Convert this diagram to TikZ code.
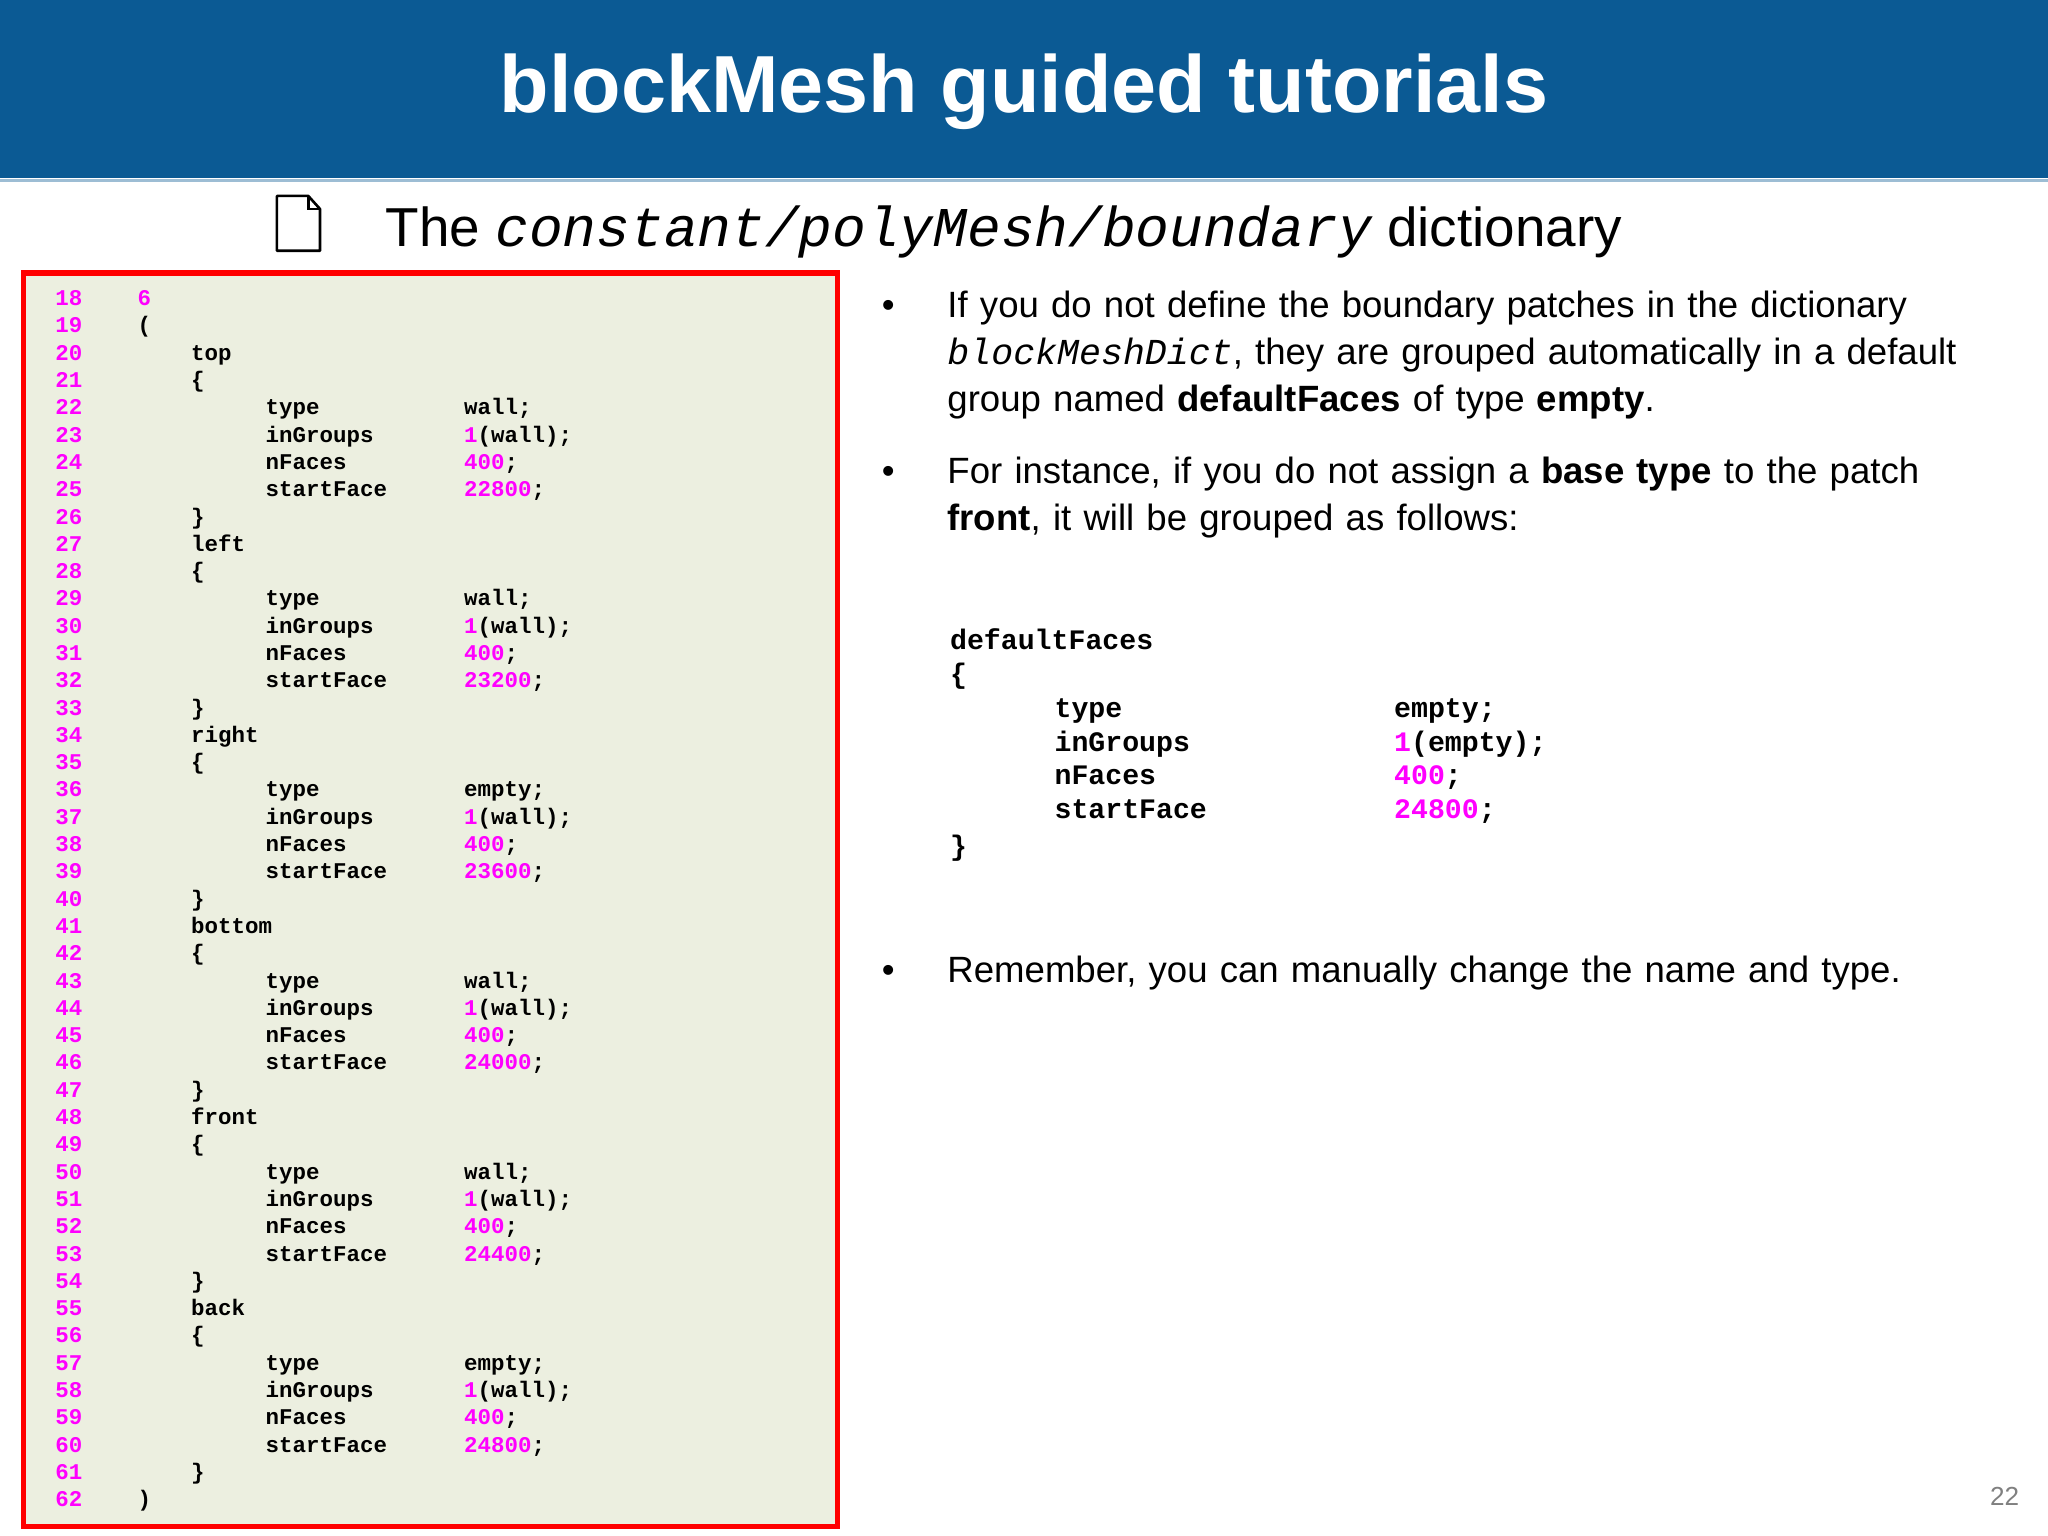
\documentclass[tikz,border=0pt]{standalone}
\usepackage{fontspec}
\setmainfont{Liberation Sans}
\newfontfamily\codefont{Liberation Mono}
\definecolor{barblue}{HTML}{0B5A94}
\definecolor{boxfill}{HTML}{ECEFE0}
\definecolor{mag}{HTML}{FF00FF}
\newcommand\cf{\codefont\fontsize{8.6pt}{10pt}\selectfont\bfseries}
\newcommand\rf{\codefont\fontsize{10.8pt}{13pt}\selectfont\bfseries}
\tikzset{cl/.style={anchor=base west,inner sep=0pt,font=\cf},
 rl/.style={anchor=base west,inner sep=0pt,font=\rf},
 bt/.style={anchor=base west,inner sep=0pt,font=\fontsize{14pt}{18pt}\selectfont,align=left,text width=430pt}}
\newcommand\lyy[1]{\pgfmathsetmacro\yy{234+(#1-18)*20.9}}
\newcommand\codeln[3]{\lyy{#1}\node[cl] at (#2,\yy) {#3};}
\newcommand\blk[4]{%
 \codeln{#1}{146}{#2}\pgfmathtruncatemacro\a{#1+1}\codeln{\a}{146}{\{}%
 \pgfmathtruncatemacro\a{#1+2}\codeln{\a}{203}{type}\codeln{\a}{355}{#3;}%
 \pgfmathtruncatemacro\a{#1+3}\codeln{\a}{203}{inGroups}\codeln{\a}{355}{\textcolor{mag}{1}(wall);}%
 \pgfmathtruncatemacro\a{#1+4}\codeln{\a}{203}{nFaces}\codeln{\a}{355}{\textcolor{mag}{400};}%
 \pgfmathtruncatemacro\a{#1+5}\codeln{\a}{203}{startFace}\codeln{\a}{355}{\textcolor{mag}{#4};}%
 \pgfmathtruncatemacro\a{#1+6}\codeln{\a}{146}{\}}}
\begin{document}
\begin{tikzpicture}[x=0.5pt,y=-0.5pt]
\useasboundingbox (0,0) rectangle (1568,1176);
\fill[white] (0,0) rectangle (1568,1176);
\fill[barblue] (0,0) rectangle (1568,136);
\draw[barblue!40,line width=1pt] (0,138) -- (1568,138);
\node[text=white,font=\fontsize{31pt}{36pt}\selectfont\bfseries] (title) at (784,70) {blockMesh guided tutorials};
% page icon
\draw[line width=1pt,line join=round] (212,150) -- (236,150) -- (245,160) -- (245,192) -- (212,192) -- cycle;
\draw[line width=1pt] (236,150) -- (236,160) -- (245,160);
\node[anchor=base west,inner sep=0pt,font=\fontsize{21pt}{24pt}\selectfont] (sub) at (295,189)
 {The {\codefont\itshape\fontsize{21.5pt}{24pt}\selectfont constant/polyMesh/boundary} dictionary};
% code box
\draw[fill=boxfill,draw=red,line width=2pt] (18,209) rectangle (641,1169);
\foreach \i in {18,...,62}{\lyy{\i}\node[cl,text=mag] at (42,\yy) {\i};}
\codeln{18}{105}{\textcolor{mag}{6}}
\codeln{19}{105}{(}
\blk{20}{top}{wall}{22800}
\blk{27}{left}{wall}{23200}
\blk{34}{right}{empty}{23600}
\blk{41}{bottom}{wall}{24000}
\blk{48}{front}{wall}{24400}
\blk{55}{back}{empty}{24800}
\codeln{62}{105}{)}
% bullets
\foreach \yb in {243,370,752}{\node[anchor=base,font=\fontsize{14pt}{18pt}\selectfont] at (680,\yb) {•};}
\node[bt] (b1) at (725,243) {If you do not define the boundary patches in the dictionary\\
{\codefont\itshape blockMeshDict}, they are grouped automatically in a default\\
group named \textbf{defaultFaces} of type \textbf{empty}.};
\node[bt] (b2) at (725,370) {For instance, if you do not assign a \textbf{base type} to the patch\\
\textbf{front}, it will be grouped as follows:};
\node[bt] (b3) at (725,752) {Remember, you can manually change the name and type.};
% right code
\node[rl] at (727,497) {defaultFaces};
\node[rl] at (727,523) {\{};
\node[rl] at (807,549) {type};\node[rl] at (1067,549) {empty;};
\node[rl] at (807,575) {inGroups};\node[rl] at (1067,575) {\textcolor{mag}{1}(empty);};
\node[rl] at (807,601) {nFaces};\node[rl] at (1067,601) {\textcolor{mag}{400};};
\node[rl] at (807,627) {startFace};\node[rl] at (1067,627) {\textcolor{mag}{24800};};
\node[rl] at (727,655) {\}};
\node[anchor=base east,text=gray,font=\fontsize{10pt}{12pt}\selectfont] (pg) at (1553,1153) {22};
\end{tikzpicture}
\end{document}
